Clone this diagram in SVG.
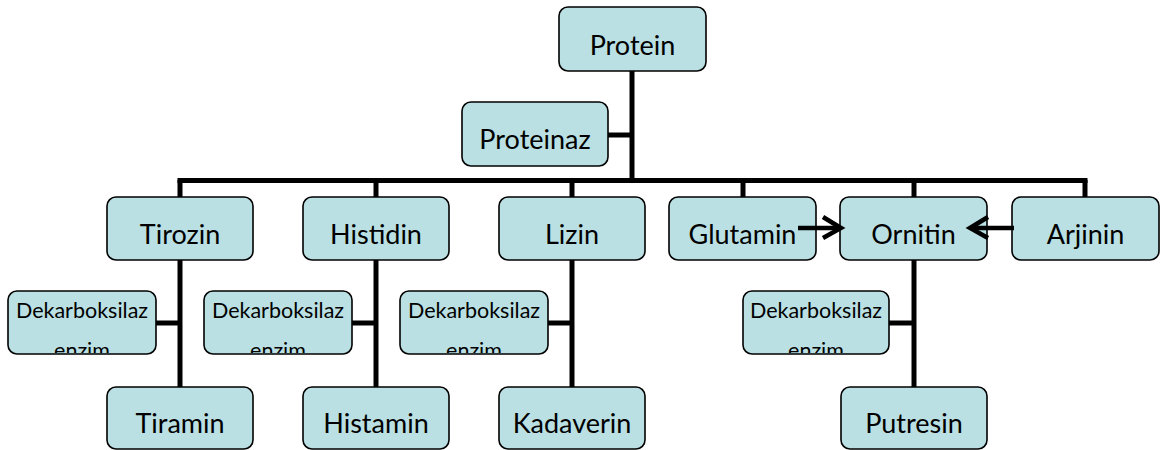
<svg xmlns="http://www.w3.org/2000/svg" width="1161" height="450" viewBox="0 0 1161 450">
<style>
.box{fill:#BAE0E3;stroke:#000;stroke-width:1.6}
.t{font-family:Lato,"Liberation Sans",sans-serif;font-size:27px;fill:#000;text-anchor:middle}
.s{font-family:Lato,"Liberation Sans",sans-serif;font-size:21.5px;fill:#000;text-anchor:middle}
.ln{stroke:#000;stroke-width:5;fill:none}
.ar{stroke:#000;stroke-width:4.5;fill:none;stroke-linecap:butt}
</style>
<defs>
<clipPath id="c1"><rect x="9" y="292" width="146" height="61"/></clipPath>
<clipPath id="c2"><rect x="205" y="292" width="146" height="61"/></clipPath>
<clipPath id="c3"><rect x="401" y="292" width="146" height="61"/></clipPath>
<clipPath id="c4"><rect x="744" y="292" width="144" height="61"/></clipPath>
</defs>
<g id="connectors">
<line class="ln" x1="632" y1="71" x2="632" y2="183"/>
<line class="ln" x1="608" y1="135" x2="632" y2="135"/>
<line class="ln" x1="177.5" y1="180.5" x2="1087.5" y2="180.5"/>
<line class="ln" x1="180" y1="180" x2="180" y2="197"/>
<line class="ln" x1="376" y1="180" x2="376" y2="197"/>
<line class="ln" x1="572" y1="180" x2="572" y2="197"/>
<line class="ln" x1="743" y1="180" x2="743" y2="197"/>
<line class="ln" x1="914" y1="180" x2="914" y2="197"/>
<line class="ln" x1="1085" y1="180" x2="1085" y2="197"/>
<line class="ln" x1="180" y1="260" x2="180" y2="387"/>
<line class="ln" x1="376" y1="260" x2="376" y2="387"/>
<line class="ln" x1="572" y1="260" x2="572" y2="387"/>
<line class="ln" x1="914" y1="260" x2="914" y2="387"/>
<line class="ln" x1="156" y1="323" x2="180" y2="323"/>
<line class="ln" x1="352" y1="323" x2="376" y2="323"/>
<line class="ln" x1="548" y1="323" x2="572" y2="323"/>
<line class="ln" x1="889" y1="323" x2="914" y2="323"/>
</g>
<g id="protein"><rect class="box" x="559" y="7" width="147" height="64" rx="9"/><text class="t" x="632.5" y="55">Protein</text></g>
<g id="proteinaz"><rect class="box" x="462" y="102" width="146" height="64" rx="9"/><text class="t" x="535" y="149">Proteinaz</text></g>
<g id="tirozin"><rect class="box" x="107" y="197" width="146" height="63" rx="9"/><text class="t" x="180" y="244">Tirozin</text></g>
<g id="histidin"><rect class="box" x="303" y="197" width="146" height="63" rx="9"/><text class="t" x="376" y="244">Histidin</text></g>
<g id="lizin"><rect class="box" x="499" y="197" width="146" height="63" rx="9"/><text class="t" x="572" y="244">Lizin</text></g>
<g id="glutamin"><rect class="box" x="669" y="197" width="147" height="63" rx="9"/><text class="t" x="742.5" y="244">Glutamin</text></g>
<g id="ornitin"><rect class="box" x="840" y="197" width="147" height="63" rx="9"/><text class="t" x="913.5" y="244">Ornitin</text></g>
<g id="arjinin"><rect class="box" x="1012" y="197" width="147" height="63" rx="9"/><text class="t" x="1085.5" y="244">Arjinin</text></g>
<g id="dek1"><rect class="box" x="8" y="291" width="148" height="63" rx="9"/><text class="s" x="82" y="318">Dekarboksilaz</text><text class="s" x="82" y="358" clip-path="url(#c1)">enzim</text></g>
<g id="dek2"><rect class="box" x="204" y="291" width="148" height="63" rx="9"/><text class="s" x="278" y="318">Dekarboksilaz</text><text class="s" x="278" y="358" clip-path="url(#c2)">enzim</text></g>
<g id="dek3"><rect class="box" x="400" y="291" width="148" height="63" rx="9"/><text class="s" x="474" y="318">Dekarboksilaz</text><text class="s" x="474" y="358" clip-path="url(#c3)">enzim</text></g>
<g id="dek4"><rect class="box" x="743" y="291" width="146" height="63" rx="9"/><text class="s" x="816" y="318">Dekarboksilaz</text><text class="s" x="816" y="358" clip-path="url(#c4)">enzim</text></g>
<g id="tiramin"><rect class="box" x="107" y="387" width="146" height="62" rx="9"/><text class="t" x="180" y="433">Tiramin</text></g>
<g id="histamin"><rect class="box" x="303" y="387" width="146" height="62" rx="9"/><text class="t" x="376" y="433">Histamin</text></g>
<g id="kadaverin"><rect class="box" x="499" y="387" width="146" height="62" rx="9"/><text class="t" x="572" y="433">Kadaverin</text></g>
<g id="putresin"><rect class="box" x="841" y="387" width="146" height="62" rx="9"/><text class="t" x="914" y="433">Putresin</text></g>
<g id="arrows">
<line class="ar" x1="798" y1="228" x2="840" y2="228"/>
<polyline class="ar" points="823,217 841,228 823,238"/>
<line class="ar" x1="1014" y1="228" x2="972" y2="228"/>
<polyline class="ar" points="988,217 970,228 988,238"/>
</g>
</svg>
